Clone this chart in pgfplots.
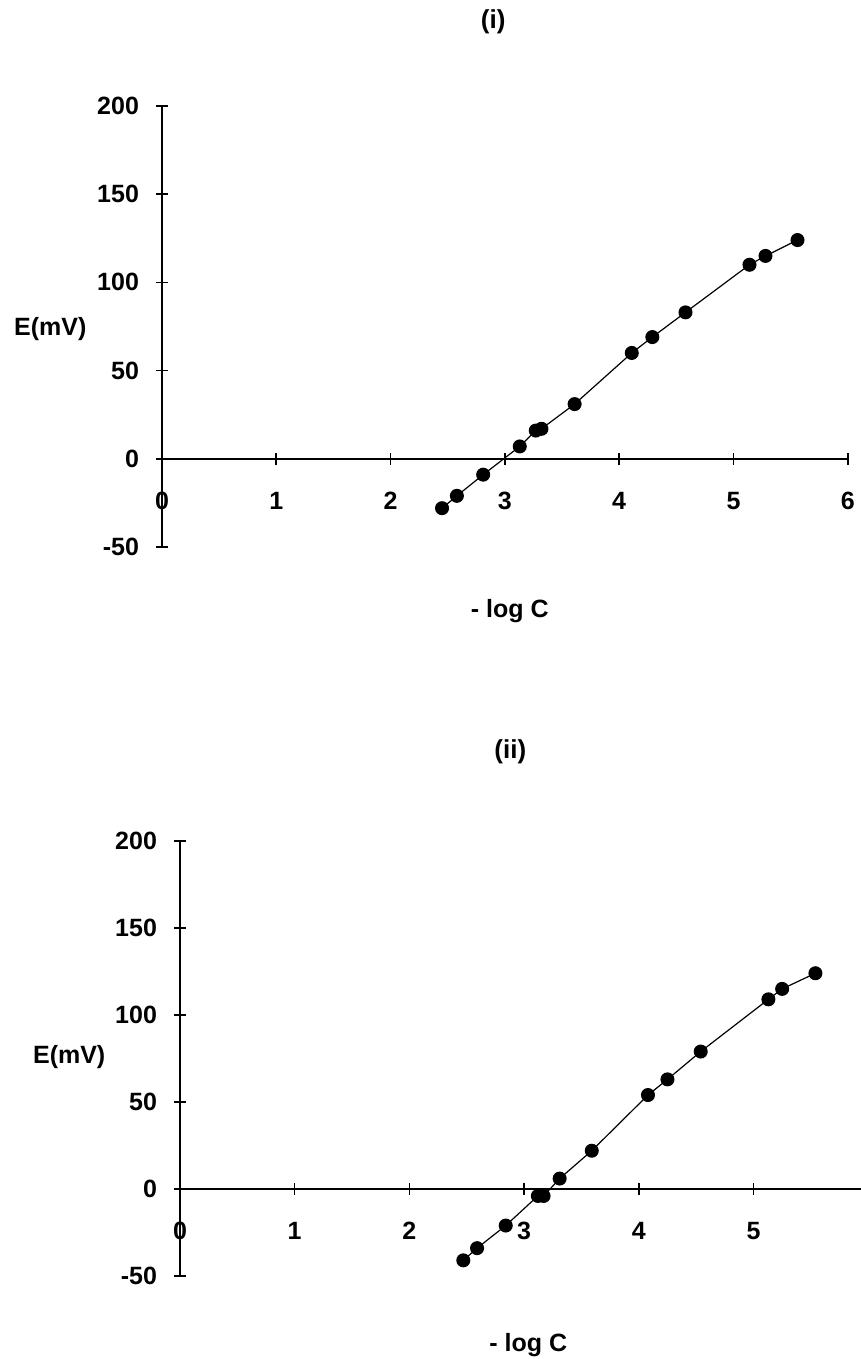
\documentclass[border=0pt]{standalone}
\usepackage{pgfplots}
\pgfplotsset{compat=1.18}
\usepackage{fontspec}
\setmainfont{Liberation Sans}

\pgfplotstableread{
x y
2.45 -28
2.58 -21
2.81 -9
3.13 7
3.27 16
3.32 17
3.61 31
4.11 60
4.29 69
4.58 83
5.14 110
5.28 115
5.56 124
}\toptable

\pgfplotstableread{
x y
2.47 -41
2.59 -34
2.84 -21
3.12 -4
3.17 -4
3.31 6
3.59 22
4.08 54
4.25 63
4.54 79
5.13 109
5.25 115
5.54 124
}\bottable

\pgfplotsset{
  myax/.style={
    scale only axis,
    axis lines=middle,
    axis line style={-, line width=1pt},
    enlargelimits=false,
    xmin=0, xmax=6, ymin=-50, ymax=200,
    xtick={0,1,2,3,4,5,6},
    ytick={-50,0,50,100,150,200},
    hide obscured x ticks=false,
    hide obscured y ticks=false,
    tick align=center,
    major tick length=6pt,
    tick style={line width=0.8pt, black},
    /pgf/number format/assume math mode=true,
    tick label style={font=\fontsize{12.5}{14}\selectfont\bfseries},
    xticklabel style={anchor=center, yshift=-18pt},
    yticklabel style={anchor=east, xshift=-5pt},
    label style={font=\fontsize{12.5}{14}\selectfont\bfseries},
    ylabel style={rotate=0, anchor=center},
    xlabel style={anchor=center},
    title style={font=\fontsize{13}{15}\selectfont\bfseries, anchor=center},
    clip=false,
  },
  myplot/.style={black, line width=0.6pt, mark=*, mark size=3.2pt, mark options={fill=black, draw=black}},
}

\begin{document}
\begin{tikzpicture}
\begin{scope}
\clip (0,0) rectangle (430.5pt,679.5pt);
\begin{axis}[myax,
  at={(81pt,406pt)}, anchor=south west,
  width=342.9pt, height=220.5pt,
  title={(i)},
  title style={at={(axis description cs:0.483,1.164)}},
  xlabel={- log C},
  xlabel style={at={(axis description cs:0.507,-0.146)}},
  ylabel={E(mV)},
  ylabel style={at={(axis description cs:-0.163,0.494)}},
]
\addplot[myplot] table[x=x,y=y] {\toptable};
\end{axis}
\begin{axis}[myax,
  at={(90pt,41.5pt)}, anchor=south west,
  width=344.1pt, height=217.5pt,
  title={(ii)},
  title style={at={(axis description cs:0.480,1.177)}},
  xlabel={- log C},
  xlabel style={at={(axis description cs:0.506,-0.158)}},
  ylabel={E(mV)},
  ylabel style={at={(axis description cs:-0.161,0.503)}},
]
\addplot[myplot] table[x=x,y=y] {\bottable};
\end{axis}
\end{scope}
\pgfresetboundingbox
\useasboundingbox (0,0) rectangle (430.5pt,679.5pt);
\end{tikzpicture}
\end{document}
